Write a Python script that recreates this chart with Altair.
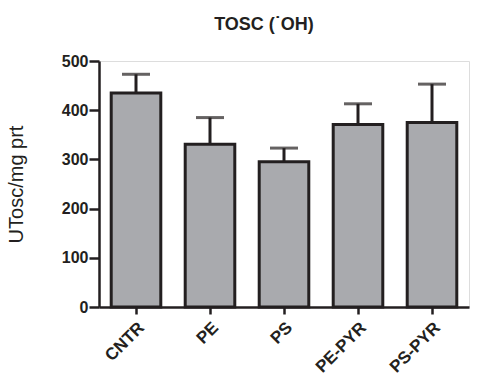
import altair as alt
import pandas as pd

groups = ["CNTR", "PE", "PS", "PE-PYR", "PS-PYR"]
means = [435, 331, 295, 371, 375]
upper = [473, 385, 323, 413, 453]

df = pd.DataFrame({"group": groups, "mean": means, "upper": upper})

FONT = "Liberation Sans"
x = alt.X("group:N", sort=groups, title=None,
          scale=alt.Scale(paddingInner=0.33, paddingOuter=0.165),
          axis=alt.Axis(labelAngle=-45, labelFontSize=17, labelFontWeight="bold",
                        labelFont=FONT, labelColor="#231f20", domainColor="#231f20",
                        domainWidth=2.5, tickColor="#231f20", tickWidth=2.5,
                        tickSize=7, labelPadding=5))
y_scale = alt.Scale(domain=[0, 500], nice=False)

bars = alt.Chart(df).mark_bar(color="#a9aaae", stroke="#231f20", strokeWidth=3).encode(
    x=x,
    y=alt.Y("mean:Q", scale=y_scale, title="UTosc/mg prt",
            axis=alt.Axis(values=[0, 100, 200, 300, 400, 500], grid=False,
                          labelFontSize=16, labelFontWeight="bold", labelFont=FONT,
                          labelColor="#231f20", domainColor="#231f20", domainWidth=2.5,
                          tickColor="#231f20", tickWidth=2.5, tickSize=10,
                          labelPadding=1, titleFont=FONT, titleFontSize=20,
                          titleFontWeight="normal", titleColor="#231f20", titlePadding=35))
)

err = alt.Chart(df).mark_rule(color="#231f20", strokeWidth=3).encode(
    x=alt.X("group:N", sort=groups), y="mean:Q", y2="upper:Q"
)
cap = alt.Chart(df).mark_tick(color="#231f20", thickness=3, size=28, orient="horizontal").encode(
    x=alt.X("group:N", sort=groups), y="upper:Q"
)

chart = alt.layer(bars, err, cap).properties(
    width=370, height=246,
    title=alt.TitleParams("TOSC (˙OH)", fontSize=18, fontWeight="bold", font=FONT,
                          color="#231f20", dx=-20, offset=19),
    autosize=alt.AutoSizeParams(type="none"),
    padding={"left": 99, "top": 61, "right": 8, "bottom": 79},
).configure_view(stroke=None).configure(background="white")

chart.save("out.html", embed_options={"renderer": "svg", "actions": False})
